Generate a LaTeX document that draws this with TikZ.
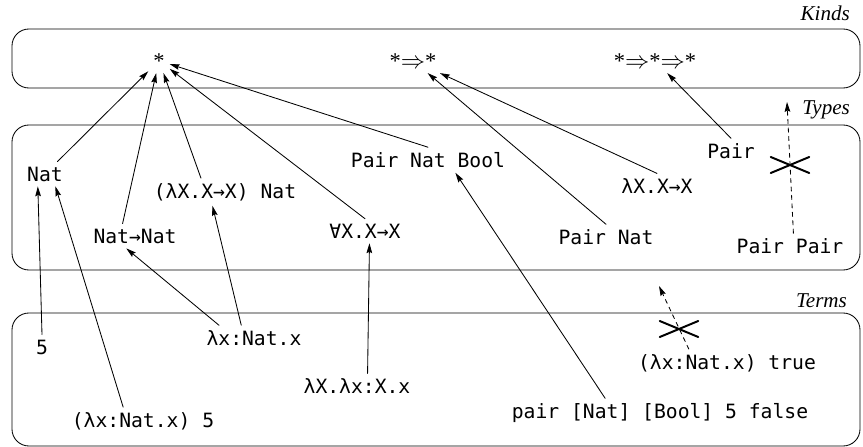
\documentclass[tikz,border=0pt]{standalone}
\usepackage{fontspec}
\setmainfont{Liberation Serif}
\setmonofont{DejaVu Sans Mono}
\usetikzlibrary{arrows.meta,shapes.misc}
\begin{document}
\begin{tikzpicture}[x=0.025cm, y=-0.025cm, line join=round, line cap=round, line width=0.6pt,
	>={Stealth[length=7pt,width=4pt,inset=1pt]},
	tm/.style={font=\ttfamily\fontsize{14}{16}\selectfont},
	knd/.style={font=\fontsize{16}{19}\selectfont, anchor=base},
	lvl/.style={draw, rounded corners=12pt},
	lvlname/.style={font=\itshape\fontsize{15}{18}\selectfont, anchor=base east},
	nope/.style={cross out, draw, line width=1.4pt, minimum width=26pt, minimum height=10pt, inner sep=0pt}]
	\useasboundingbox (0,0) rectangle (863,447);
	% the three levels
	\draw[lvl] (12,29) rectangle (860,88);
	\draw[lvl] (12,125) rectangle (860,270);
	\draw[lvl] (12,313) rectangle (860,446);
	\node[lvlname] at (855,20) {Kinds};
	\node[lvlname] at (855,114) {Types};
	\node[lvlname] at (852,307) {Terms};
	% kinds
	\node[knd] (star) at (159,68) {*};
	\node[knd] (kk) at (413,68) {*$\Rightarrow$*};
	\node[knd] (kkk) at (655,68) {*$\Rightarrow$*$\Rightarrow$*};
	% types
	\node[tm] (nat) at (45,174) {Nat};
	\node[tm] (natnat) at (135,236) {Nat→Nat};
	\node[tm] (tyapp) at (225,192) {(λX.X→X) Nat};
	\node[tm] (forall) at (365,231) {∀X.X→X};
	\node[tm] (pnb) at (428,160) {Pair Nat Bool};
	\node[tm] (tylam) at (657,186) {λX.X→X};
	\node[tm] (pairnat) at (606,237) {Pair Nat};
	\node[tm] (pair) at (731,151) {Pair};
	\node[tm] (pairpair) at (790,246) {Pair Pair};
	% terms
	\node[tm] (five) at (42,347) {5};
	\node[tm] (lamx) at (254,338) {λx:Nat.x};
	\node[tm] (lamXx) at (357,386) {λX.λx:X.x};
	\node[tm] (app5) at (143,421) {(λx:Nat.x) 5};
	\node[tm] (apptrue) at (727,363) {(λx:Nat.x) true};
	\node[tm] (pairterm) at (660,413) {pair [Nat] [Bool] 5 false};
	% types have kinds
	\draw[->] (nat) -- (star);
	\draw[->] (natnat.135) -- (star);
	\draw[->] (tyapp.150) -- (star);
	\draw[->] (forall.north) -- (star);
	\draw[->] (pnb.north) -- (star);
	\draw[->] (pairnat.north) -- (kk);
	\draw[->] (tylam.north) -- (kk);
	\draw[->] (pair.north) -- (kkk);
	% terms have types
	\draw[->] (five.north) -- (nat.240);
	\draw[->] (app5.145) -- (nat.310);
	\draw[->] (lamx.160) -- (natnat.235);
	\draw[->] (lamx.135) -- (tyapp.228);
	\draw[->] (lamXx.50) -- (forall.290);
	\draw[->] (pairterm.165) -- (pnb.335);
	% ill-kinded and ill-typed
	\coordinate (kgap) at (787,102);
	\coordinate (tgap) at (659,286);
	\draw[->, dashed] (pairpair.75) -- (kgap);
	\node[nope] (nopair) at (790,165) {};
	\draw[->, dashed] (apptrue.160) -- (tgap);
	\node[nope] (notrue) at (679,329) {};
\end{tikzpicture}
\end{document}
